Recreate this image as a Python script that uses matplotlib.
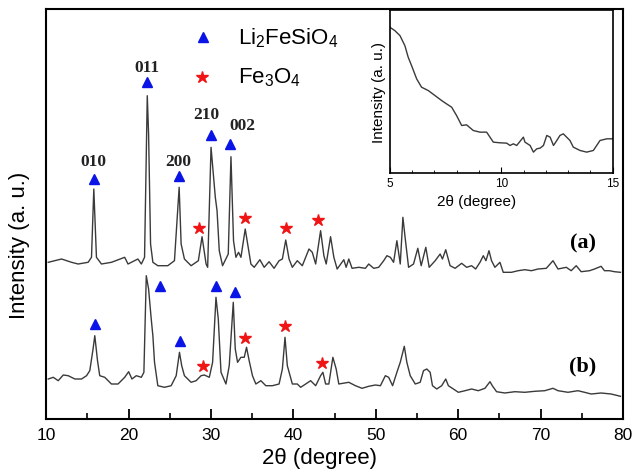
import matplotlib
matplotlib.use("Agg")
import matplotlib.pyplot as plt
from matplotlib.ticker import MultipleLocator

plt.rcParams['font.family'] = ['Liberation Sans', 'DejaVu Sans']
plt.rcParams['mathtext.fontset'] = 'custom'
plt.rcParams['mathtext.rm'] = 'Liberation Sans'

# trace (a)
two_theta_a = [10.24, 11.86, 13.07, 13.87, 15.08, 15.49, 15.77, 16.09, 16.70, 17.91,
               19.52, 19.92, 21.12, 21.54, 21.93, 22.26, 22.42, 22.66, 22.94, 23.54,
               24.75, 25.56, 26.13, 26.37, 26.77, 27.58, 28.46, 28.91, 29.40, 29.59,
               30.00, 30.52, 30.73, 31.00, 31.40, 32.09, 32.42, 32.73, 33.02, 33.34,
               33.63, 34.15, 34.84, 35.24, 35.93, 36.45, 37.05, 37.65, 38.26, 38.66,
               39.07, 39.47, 39.87, 40.47, 41.08, 41.89, 42.29, 42.70, 43.30, 43.70,
               43.98, 44.51, 44.91, 45.31, 46.12, 46.40, 46.72, 47.12, 47.93, 48.74,
               49.14, 49.75, 50.35, 50.96, 51.35, 51.77, 52.16, 52.56, 52.97, 53.29,
               53.58, 53.98, 54.58, 55.10, 55.51, 56.07, 56.48, 57.21, 57.81, 58.09,
               58.49, 59.02, 59.63, 60.42, 61.03, 61.63, 62.12, 62.65, 63.05, 63.37,
               63.74, 64.05, 64.46, 65.07, 65.47, 66.47, 67.28, 68.09, 68.89, 69.70,
               70.70, 71.51, 72.12, 73.12, 73.72, 74.33, 74.93, 75.95, 76.55, 77.35,
               77.76, 78.37, 78.97, 79.70]
intensity_a = [156.7, 160, 156.7, 155, 156.7, 161.7, 230, 161.7, 155, 156.7,
               161.7, 155, 160, 155, 161.7, 323.3, 285, 175, 156.7, 153.3,
               153.3, 158.3, 231.7, 175, 160, 153.3, 158.3, 182.3, 155, 151.7,
               271.7, 221.7, 208.3, 168.3, 153.3, 165, 262.3, 178.3, 161.7, 166.7,
               161.7, 190, 155, 151.7, 159.3, 151.7, 157.3, 150.7, 158.3, 160,
               179, 160, 151.7, 158.3, 153.3, 170, 166.7, 155, 188.3, 163.3,
               155, 182.3, 161.7, 150, 159.3, 151.7, 160, 150.7, 151.7, 150.7,
               155, 150.7, 151.7, 158.3, 163.3, 161.7, 156.7, 178.3, 155, 201.7,
               180, 151.7, 155, 170.7, 153.3, 171.7, 151.7, 158.3, 165, 160,
               169.3, 153.3, 150.7, 155.7, 151.7, 153.3, 150, 156.7, 163.3, 158.3,
               168.3, 158.3, 151.7, 156.7, 146.7, 146.7, 148.3, 149.3, 148.3, 150,
               150.7, 158.3, 150, 151.7, 148.3, 153.3, 147.3, 148.3, 150, 152.7,
               148.3, 148.3, 147.3, 146.7]

# trace (b)
two_theta_b = [10.24, 10.85, 11.45, 12.06, 12.66, 13.47, 14.28, 14.89, 15.28, 15.68,
               15.89, 16.22, 16.49, 17.10, 17.91, 18.71, 19.52, 20.00, 20.40, 20.93,
               21.54, 21.85, 22.14, 22.42, 22.74, 22.94, 23.14, 23.54, 24.35, 25.16,
               25.77, 26.17, 26.44, 26.77, 27.58, 28.19, 28.79, 29.19, 29.79, 30.19,
               30.60, 30.88, 31.21, 31.81, 32.21, 32.70, 32.94, 33.22, 33.63, 34.03,
               34.31, 34.63, 35.03, 35.44, 36.05, 36.65, 37.45, 38.26, 38.66, 38.98,
               39.26, 39.87, 40.47, 40.88, 41.49, 42.09, 42.70, 43.30, 43.58, 43.91,
               44.30, 44.79, 45.19, 45.51, 46.72, 47.53, 48.33, 49.14, 49.95, 50.56,
               51.16, 51.56, 52.04, 52.56, 52.97, 53.46, 53.77, 54.18, 54.79, 55.39,
               55.79, 56.19, 56.60, 56.88, 57.40, 58.00, 58.49, 58.81, 59.42, 60.02,
               60.83, 61.63, 62.44, 63.25, 63.86, 64.14, 64.66, 65.67, 66.88, 68.09,
               69.30, 70.51, 71.51, 72.12, 73.33, 74.53, 75.34, 76.14, 77.35, 78.56,
               79.70]
intensity_b = [40, 41.7, 38.3, 44, 43.3, 40, 40, 43.3, 48.3, 70,
               83.3, 58.3, 43.3, 41.7, 35, 35, 41.7, 47.3, 40, 43.3,
               41.7, 46.7, 143.3, 130, 100, 83.3, 56.7, 33.3, 31.7, 33.3,
               43.3, 66.7, 53.3, 43.3, 36.7, 38.3, 43.3, 44, 41.7, 56.7,
               121.7, 100, 46.7, 35, 53.3, 116.7, 70, 56.7, 61.7, 61.7,
               71.7, 58.3, 43.3, 35, 38.3, 33.3, 33.3, 35, 50, 81.7,
               53.3, 35, 35, 31.7, 35, 38.3, 33.3, 43.3, 46.7, 35,
               35, 61.7, 50, 35, 36.7, 33.3, 30.7, 32.7, 34, 33.3,
               43.3, 41.7, 33.3, 46.7, 56.7, 72.7, 56.7, 43.3, 35, 36.7,
               48.3, 50, 46.7, 33.3, 30, 33.3, 40, 33.3, 30, 26.7,
               28.3, 30, 28.3, 30.7, 37.3, 33.3, 27.3, 26, 27.3, 26.7,
               27.7, 28.3, 30.7, 28.3, 26.7, 28.3, 26.7, 25, 26, 25,
               22.7]

# Li2FeSiO4 (triangles) and Fe3O4 (stars) markers
tri_a_x = [15.77, 22.26, 26.13, 30.00, 32.33]
tri_a_y = [240, 336.7, 243.3, 284, 275]
star_a_x = [28.50, 34.15, 39.07, 43.01]
star_a_y = [191, 201, 191, 199]
tri_b_x = [15.89, 23.83, 26.25, 30.60, 32.90]
tri_b_y = [95, 133.3, 78.3, 133.3, 127.3]
star_b_x = [29.07, 34.15, 38.98, 43.49]
star_b_y = [52.7, 80.7, 93.3, 55.7]

hkl_labels = ["010", "011", "200", "210", "002"]
hkl_x = [15.68, 22.26, 26.05, 29.39, 33.75]
hkl_y = [258.3, 352, 258, 305, 294]

# inset: low angle region
inset_x = [5.00, 5.22, 5.45, 5.67, 5.82, 5.97, 6.20, 6.42, 6.72, 7.02,
           7.32, 7.54, 7.77, 7.99, 8.22, 8.44, 8.74, 9.04, 9.34, 9.64,
           9.94, 10.24, 10.39, 10.54, 10.69, 10.99, 11.06, 11.29, 11.44, 11.59,
           11.74, 11.89, 12.04, 12.19, 12.34, 12.49, 12.63, 12.78, 12.93, 13.08,
           13.23, 13.53, 13.83, 14.13, 14.43, 14.73, 15.00]
inset_y = [438, 428, 413, 383, 348, 323, 283, 258, 248, 233,
           218, 208, 198, 173, 143, 145, 128, 123, 123, 93,
           91, 90, 83, 88, 83, 108, 93, 83, 63, 73,
           75, 83, 113, 108, 83, 98, 113, 118, 108, 98,
           78, 68, 63, 68, 98, 103, 103]

line_col = "#3a3a3a"

fig = plt.figure(figsize=(6.33, 4.77), dpi=100)
ax = fig.add_axes([0.0731, 0.1195, 0.9110, 0.8595])
ax.plot(two_theta_a, intensity_a, color=line_col, lw=1.0)
ax.plot(two_theta_b, intensity_b, color=line_col, lw=1.0)

ax.plot(tri_a_x, tri_a_y, '^', color="#0a14e6", ms=7, ls='none')
ax.plot(tri_b_x, tri_b_y, '^', color="#0a14e6", ms=7, ls='none')
ax.plot(star_a_x, star_a_y, '*', color="#f01414", ms=9, ls='none')
ax.plot(star_b_x, star_b_y, '*', color="#f01414", ms=9, ls='none')

for lab, x, y in zip(hkl_labels, hkl_x, hkl_y):
    ax.text(x, y, lab, ha='center', va='center', fontsize=12.5,
            family='Liberation Serif', fontweight='bold', color='#222222')

# marker key
ax.plot([29.03], [382], '^', color="#0a14e6", ms=7)
ax.plot([28.92], [342.3], '*', color="#f01414", ms=9)
ax.text(33.3, 382, r"Li$_{2}$FeSiO$_{4}$", ha='left', va='center', fontsize=16)
ax.text(33.3, 342, r"Fe$_{3}$O$_{4}$", ha='left', va='center', fontsize=16)

ax.text(75.14, 176.7, "(a)", ha='center', va='center', fontsize=16,
        family='Liberation Serif', fontweight='bold')
ax.text(75.14, 53.3, "(b)", ha='center', va='center', fontsize=16,
        family='Liberation Serif', fontweight='bold')

ax.set_xlim(10, 80)
ax.set_ylim(0, 410)
ax.set_yticks([])
ax.xaxis.set_major_locator(MultipleLocator(10))
ax.xaxis.set_minor_locator(MultipleLocator(5))
ax.tick_params(axis='x', which='major', direction='in', length=7, width=1.3,
               labelsize=12.5, pad=6)
ax.tick_params(axis='x', which='minor', direction='in', length=4, width=1.2)
for s in ax.spines.values():
    s.set_linewidth(1.5)
ax.set_xlabel("2θ (degree)", fontsize=16)
ax.set_ylabel("Intensity (a. u.)", fontsize=16)
ax.xaxis.set_label_coords(0.473, -0.068)
ax.yaxis.set_label_coords(-0.028, 0.427)

# inset
axi = fig.add_axes([0.616, 0.635, 0.352, 0.342])
axi.plot(inset_x, inset_y, color=line_col, lw=1.0)
axi.set_xlim(5, 15)
axi.set_ylim(0, 490)
axi.set_yticks([])
axi.set_xticks([5, 10, 15])
axi.xaxis.set_minor_locator(MultipleLocator(1))
axi.tick_params(axis='x', which='major', direction='in', length=4, labelsize=8.5, pad=3)
axi.tick_params(axis='x', which='minor', direction='in', length=2)
for s in axi.spines.values():
    s.set_linewidth(1.2)
axi.set_xlabel("2θ (degree)", fontsize=11)
axi.set_ylabel("Intensity (a. u.)", fontsize=11, labelpad=3)
axi.xaxis.set_label_coords(0.39, -0.13)

fig.savefig("out.png")
plt.close(fig)
